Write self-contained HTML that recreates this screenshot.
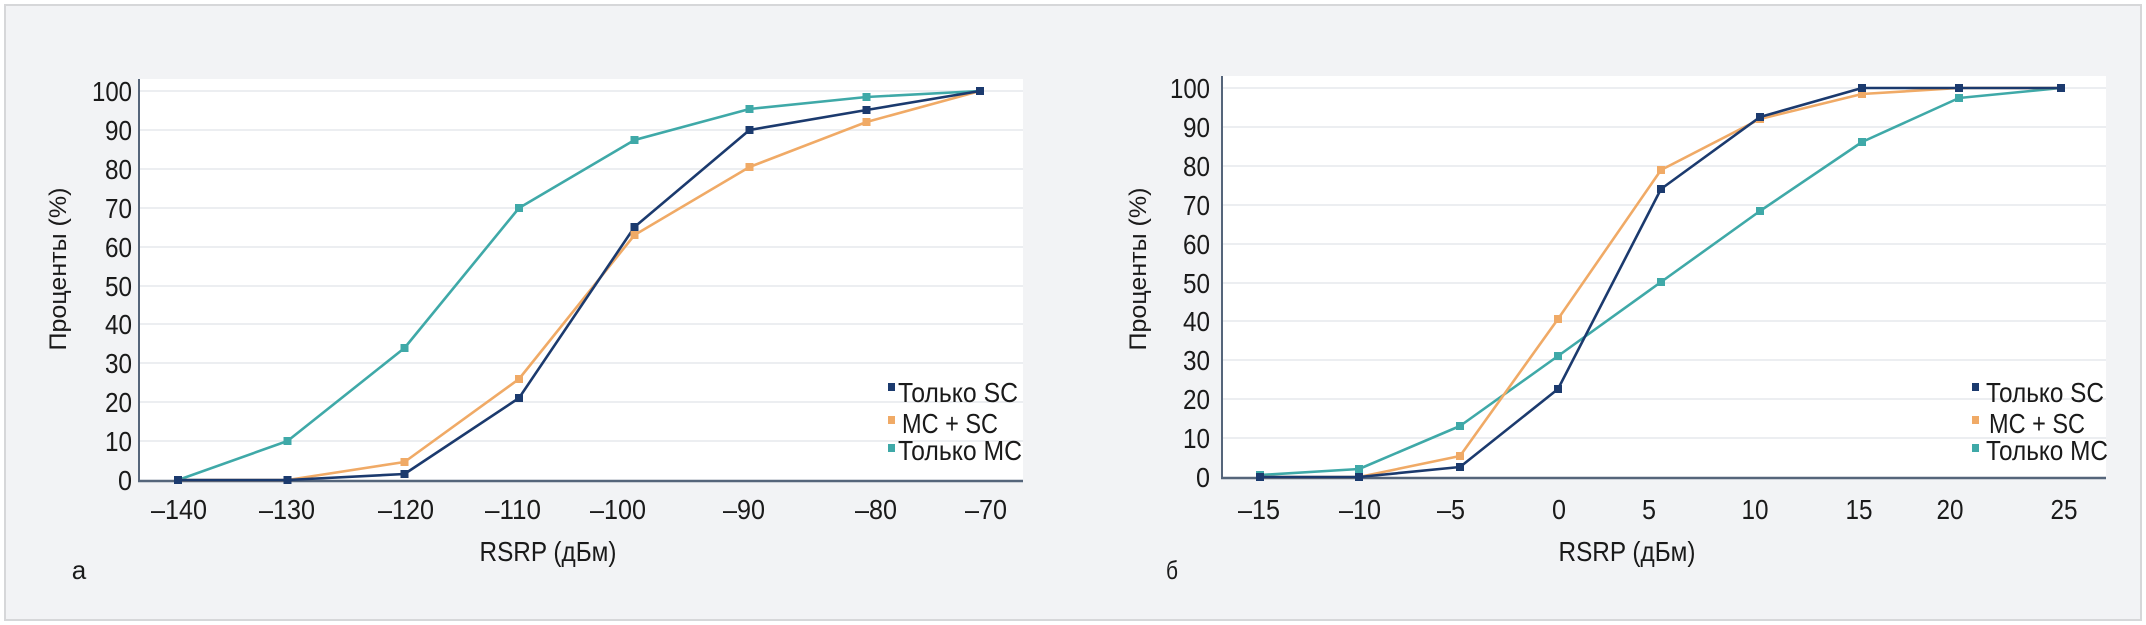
<!DOCTYPE html>
<html><head><meta charset="utf-8"><style>
html,body{margin:0;padding:0;background:#fff}
svg{display:block}
text{font-family:"Liberation Sans",sans-serif;fill:#1a1a1a}
</style></head><body>
<svg width="2146" height="625" viewBox="0 0 2146 625" xmlns="http://www.w3.org/2000/svg">
<rect x="0" y="0" width="2146" height="625" fill="#ffffff"/>
<rect x="5" y="5" width="2136" height="615" fill="#f2f3f5" stroke="#d6d7d9" stroke-width="2"/>

<!-- LEFT CHART -->
<rect x="139" y="79" width="884" height="401" fill="#ffffff"/>
<g stroke="#eceef1" stroke-width="2">
<line x1="139" x2="1023" y1="91" y2="91"/><line x1="139" x2="1023" y1="130" y2="130"/><line x1="139" x2="1023" y1="169" y2="169"/><line x1="139" x2="1023" y1="208" y2="208"/><line x1="139" x2="1023" y1="247" y2="247"/><line x1="139" x2="1023" y1="286" y2="286"/><line x1="139" x2="1023" y1="324" y2="324"/><line x1="139" x2="1023" y1="363" y2="363"/><line x1="139" x2="1023" y1="402" y2="402"/><line x1="139" x2="1023" y1="441" y2="441"/>
</g>
<line x1="139" y1="79" x2="139" y2="481" stroke="#55657a" stroke-width="2"/>
<line x1="138" y1="481" x2="1023" y2="481" stroke="#55657a" stroke-width="2.5"/>
<g font-size="28" text-anchor="end">
<text x="132" y="101" textLength="40" lengthAdjust="spacingAndGlyphs">100</text>
<text x="132" y="140" textLength="27" lengthAdjust="spacingAndGlyphs">90</text>
<text x="132" y="179" textLength="27" lengthAdjust="spacingAndGlyphs">80</text>
<text x="132" y="218" textLength="27" lengthAdjust="spacingAndGlyphs">70</text>
<text x="132" y="257" textLength="27" lengthAdjust="spacingAndGlyphs">60</text>
<text x="132" y="296" textLength="27" lengthAdjust="spacingAndGlyphs">50</text>
<text x="132" y="334" textLength="27" lengthAdjust="spacingAndGlyphs">40</text>
<text x="132" y="373" textLength="27" lengthAdjust="spacingAndGlyphs">30</text>
<text x="132" y="412" textLength="27" lengthAdjust="spacingAndGlyphs">20</text>
<text x="132" y="451" textLength="27" lengthAdjust="spacingAndGlyphs">10</text>
<text x="132" y="490" textLength="14" lengthAdjust="spacingAndGlyphs">0</text>
</g>
<g font-size="28" text-anchor="middle">
<text x="179" y="519" textLength="56" lengthAdjust="spacingAndGlyphs">–140</text>
<text x="287" y="519" textLength="56" lengthAdjust="spacingAndGlyphs">–130</text>
<text x="406" y="519" textLength="56" lengthAdjust="spacingAndGlyphs">–120</text>
<text x="513" y="519" textLength="56" lengthAdjust="spacingAndGlyphs">–110</text>
<text x="618" y="519" textLength="56" lengthAdjust="spacingAndGlyphs">–100</text>
<text x="744" y="519" textLength="42" lengthAdjust="spacingAndGlyphs">–90</text>
<text x="876" y="519" textLength="42" lengthAdjust="spacingAndGlyphs">–80</text>
<text x="986" y="519" textLength="42" lengthAdjust="spacingAndGlyphs">–70</text>
</g>
<text x="548" y="561" font-size="28" text-anchor="middle" textLength="137" lengthAdjust="spacingAndGlyphs">RSRP (дБм)</text>
<text x="79" y="579" font-size="26" text-anchor="middle">а</text>
<text transform="translate(66,269) rotate(-90)" font-size="24" text-anchor="middle" textLength="163" lengthAdjust="spacingAndGlyphs">Проценты (%)</text>

<g fill="none" stroke-width="2.6" stroke-linejoin="round">
<polyline stroke="#3fa9a8" points="178,480 287.5,441 404.5,348 519,208 634.5,140 749.5,109 866.5,97 980,91"/>
<polyline stroke="#f0aa66" points="178,480 287.5,480 404.5,462 519,379 634.5,235 749.5,167 866.5,122 980,91"/>
<polyline stroke="#1b3a6e" points="178,480 287.5,480 404.5,474 519,398 634.5,227 749.5,130 866.5,110 980,91"/>
</g>
<g fill="#3fa9a8"><rect x="174" y="476" width="8" height="8"/><rect x="283.5" y="437" width="8" height="8"/><rect x="400.5" y="344" width="8" height="8"/><rect x="515" y="204" width="8" height="8"/><rect x="630.5" y="136" width="8" height="8"/><rect x="745.5" y="105" width="8" height="8"/><rect x="862.5" y="93" width="8" height="8"/></g>
<g fill="#f0aa66"><rect x="400.5" y="458" width="8" height="8"/><rect x="515" y="375" width="8" height="8"/><rect x="630.5" y="231" width="8" height="8"/><rect x="745.5" y="163" width="8" height="8"/><rect x="862.5" y="118" width="8" height="8"/></g>
<g fill="#1b3a6e"><rect x="174" y="476" width="8" height="8"/><rect x="283.5" y="476" width="8" height="8"/><rect x="400.5" y="470" width="8" height="8"/><rect x="515" y="394" width="8" height="8"/><rect x="630.5" y="223" width="8" height="8"/><rect x="745.5" y="126" width="8" height="8"/><rect x="862.5" y="106" width="8" height="8"/><rect x="976" y="87" width="8" height="8"/></g>

<rect x="888" y="383" width="7" height="8" fill="#1b3a6e"/>
<rect x="888" y="416" width="7" height="8" fill="#f0aa66"/>
<rect x="888" y="444" width="7" height="8" fill="#3fa9a8"/>
<g font-size="28">
<text x="898" y="402" textLength="120" lengthAdjust="spacingAndGlyphs">Только SC</text>
<text x="902" y="433" textLength="96" lengthAdjust="spacingAndGlyphs">MC + SC</text>
<text x="898" y="460" textLength="124" lengthAdjust="spacingAndGlyphs">Только MC</text>
</g>

<!-- RIGHT CHART -->
<rect x="1222" y="76" width="884" height="401" fill="#ffffff"/>
<g stroke="#eceef1" stroke-width="2">
<line x1="1222" x2="2106" y1="88" y2="88"/><line x1="1222" x2="2106" y1="127" y2="127"/><line x1="1222" x2="2106" y1="166" y2="166"/><line x1="1222" x2="2106" y1="205" y2="205"/><line x1="1222" x2="2106" y1="244" y2="244"/><line x1="1222" x2="2106" y1="283" y2="283"/><line x1="1222" x2="2106" y1="321" y2="321"/><line x1="1222" x2="2106" y1="360" y2="360"/><line x1="1222" x2="2106" y1="399" y2="399"/><line x1="1222" x2="2106" y1="438" y2="438"/>
</g>
<line x1="1222" y1="76" x2="1222" y2="478" stroke="#55657a" stroke-width="2"/>
<line x1="1221" y1="478" x2="2106" y2="478" stroke="#55657a" stroke-width="2.5"/>
<g font-size="28" text-anchor="end">
<text x="1210" y="98" textLength="40" lengthAdjust="spacingAndGlyphs">100</text>
<text x="1210" y="137" textLength="27" lengthAdjust="spacingAndGlyphs">90</text>
<text x="1210" y="176" textLength="27" lengthAdjust="spacingAndGlyphs">80</text>
<text x="1210" y="215" textLength="27" lengthAdjust="spacingAndGlyphs">70</text>
<text x="1210" y="254" textLength="27" lengthAdjust="spacingAndGlyphs">60</text>
<text x="1210" y="293" textLength="27" lengthAdjust="spacingAndGlyphs">50</text>
<text x="1210" y="331" textLength="27" lengthAdjust="spacingAndGlyphs">40</text>
<text x="1210" y="370" textLength="27" lengthAdjust="spacingAndGlyphs">30</text>
<text x="1210" y="409" textLength="27" lengthAdjust="spacingAndGlyphs">20</text>
<text x="1210" y="448" textLength="27" lengthAdjust="spacingAndGlyphs">10</text>
<text x="1210" y="487" textLength="14" lengthAdjust="spacingAndGlyphs">0</text>
</g>
<g font-size="28" text-anchor="middle">
<text x="1259" y="519" textLength="42" lengthAdjust="spacingAndGlyphs">–15</text>
<text x="1360" y="519" textLength="42" lengthAdjust="spacingAndGlyphs">–10</text>
<text x="1451" y="519" textLength="28" lengthAdjust="spacingAndGlyphs">–5</text>
<text x="1559" y="519" textLength="14" lengthAdjust="spacingAndGlyphs">0</text>
<text x="1649" y="519" textLength="14" lengthAdjust="spacingAndGlyphs">5</text>
<text x="1755" y="519" textLength="27" lengthAdjust="spacingAndGlyphs">10</text>
<text x="1859" y="519" textLength="27" lengthAdjust="spacingAndGlyphs">15</text>
<text x="1950" y="519" textLength="27" lengthAdjust="spacingAndGlyphs">20</text>
<text x="2064" y="519" textLength="27" lengthAdjust="spacingAndGlyphs">25</text>
</g>
<text x="1627" y="561" font-size="28" text-anchor="middle" textLength="137" lengthAdjust="spacingAndGlyphs">RSRP (дБм)</text>
<text x="1172" y="579" font-size="26" text-anchor="middle" textLength="12" lengthAdjust="spacingAndGlyphs">б</text>
<text transform="translate(1146,269) rotate(-90)" font-size="24" text-anchor="middle" textLength="163" lengthAdjust="spacingAndGlyphs">Проценты (%)</text>

<g fill="none" stroke-width="2.6" stroke-linejoin="round">
<polyline stroke="#3fa9a8" points="1260,475 1359,469 1460,426 1558,356 1661,282 1760,211 1862,142 1959,98 2061,88"/>
<polyline stroke="#f0aa66" points="1260,477 1359,477 1460,456 1558,319 1661,170 1760,119 1862,94 1959,88 2061,88"/>
<polyline stroke="#1b3a6e" points="1260,477 1359,477 1460,467 1558,389 1661,189 1760,117 1862,88 1959,88 2061,88"/>
</g>
<g fill="#3fa9a8"><rect x="1256" y="471" width="8" height="8"/><rect x="1355" y="465" width="8" height="8"/><rect x="1456" y="422" width="8" height="8"/><rect x="1554" y="352" width="8" height="8"/><rect x="1657" y="278" width="8" height="8"/><rect x="1756" y="207" width="8" height="8"/><rect x="1858" y="138" width="8" height="8"/><rect x="1955" y="94" width="8" height="8"/></g>
<g fill="#f0aa66"><rect x="1456" y="452" width="8" height="8"/><rect x="1554" y="315" width="8" height="8"/><rect x="1657" y="166" width="8" height="8"/><rect x="1756" y="115" width="8" height="8"/><rect x="1858" y="90" width="8" height="8"/></g>
<g fill="#1b3a6e"><rect x="1256" y="473" width="8" height="8"/><rect x="1355" y="473" width="8" height="8"/><rect x="1456" y="463" width="8" height="8"/><rect x="1554" y="385" width="8" height="8"/><rect x="1657" y="185" width="8" height="8"/><rect x="1756" y="113" width="8" height="8"/><rect x="1858" y="84" width="8" height="8"/><rect x="1955" y="84" width="8" height="8"/><rect x="2057" y="84" width="8" height="8"/></g>

<rect x="1972" y="383" width="7" height="8" fill="#1b3a6e"/>
<rect x="1972" y="416" width="7" height="8" fill="#f0aa66"/>
<rect x="1972" y="444" width="7" height="8" fill="#3fa9a8"/>
<g font-size="28">
<text x="1986" y="402" textLength="118" lengthAdjust="spacingAndGlyphs">Только SC</text>
<text x="1989" y="433" textLength="96" lengthAdjust="spacingAndGlyphs">MC + SC</text>
<text x="1986" y="460" textLength="122" lengthAdjust="spacingAndGlyphs">Только MC</text>
</g>
</svg>
</body></html>
